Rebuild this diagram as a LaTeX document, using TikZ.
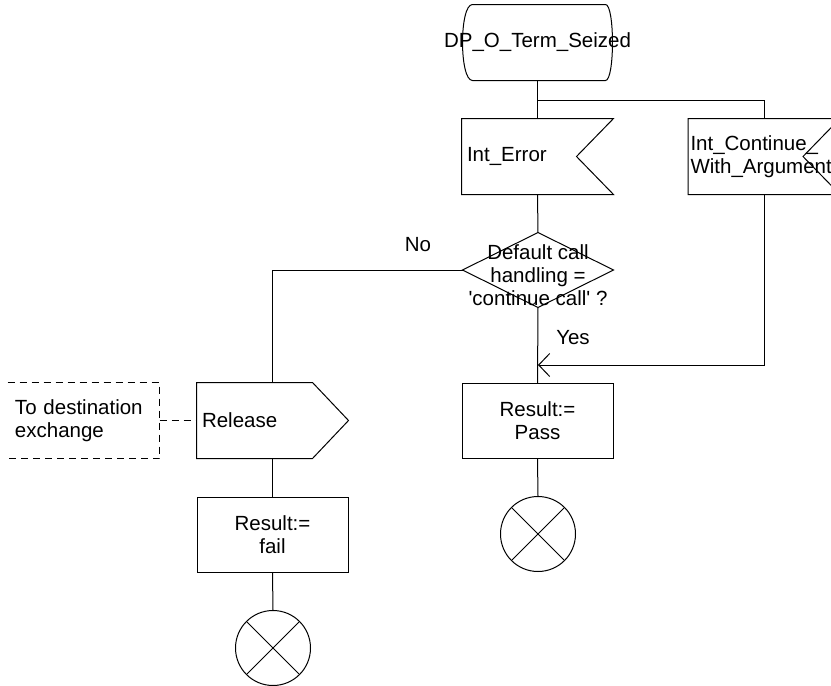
\documentclass[tikz,border=0pt]{standalone}
\usepackage{fontspec}
\setmainfont{Liberation Sans}[Ligatures=TeXOff]
\usetikzlibrary{arrows.meta}
\begin{document}
\begin{tikzpicture}[x=1pt,y=-1pt,line width=1pt,
  every node/.style={font=\fontsize{20.5}{23}\selectfont, inner sep=0pt},
  shapebox/.style={minimum width=151pt, minimum height=75pt, draw=none},
  leftbox/.style={shapebox, text width=141pt, align=left, inner xsep=5pt},
  ctrbox/.style={shapebox, draw, align=center},
  term/.style={circle, draw, minimum size=75pt},
  cmtline/.style={dashed, dash pattern=on 7pt off 5pt},
  flow/.style={-{Straight Barb[length=11pt,width=23pt]}}]
\clip (0,0) rectangle (831,686);
% start state
\node[minimum width=149pt, minimum height=75pt] (start) at (537.5,42.5) {};
\node at (start.center) {DP\_O\_Term\_Seized};
\draw ([xshift=10pt]start.north west) -- ([xshift=-7pt]start.north east)
  .. controls ([xshift=2.3pt]start.north east) and ([xshift=2.3pt]start.south east) .. ([xshift=-7pt]start.south east)
  -- ([xshift=10pt]start.south west)
  .. controls ([xshift=-3.3pt]start.south west) and ([xshift=-3.3pt]start.north west) .. ([xshift=10pt]start.north west);
% input signals
\node[leftbox] (err) at (537.5,156.5) {Int\_Error};
\draw (err.north west) -- (err.north east) -- ([xshift=-37pt]err.east) -- (err.south east) -- (err.south west) -- cycle;
\node[leftbox, text width=147pt, inner xsep=2pt] (cont) at (764,156.5) {Int\_Continue\_\\With\_Argument};
\draw (cont.north west) -- (cont.north east) -- ([xshift=-37pt]cont.east) -- (cont.south east) -- (cont.south west) -- cycle;
% decision
\node[minimum width=150pt, minimum height=74pt] (dec) at (538,270) {};
\node[align=center] at ([yshift=-5pt]dec.center) {Default call\\handling =\\'continue call' ?};
\draw (dec.north) -- (dec.east) -- (dec.south) -- (dec.west) -- cycle;
% output signal
\node[leftbox] (rel) at (272.5,420.5) {Release};
\draw (rel.north west) -- ([xshift=-36pt]rel.north east) -- (rel.east) -- ([xshift=-36pt]rel.south east) -- (rel.south west) -- cycle;
% comment
\node[shapebox, text width=137pt, align=left, inner xsep=7pt] (cmt) at (83.5,420.5) {To destination\\exchange};
\draw[cmtline] (cmt.north west) -- (cmt.north east) -- (cmt.south east) -- (cmt.south west);
\draw[cmtline] (cmt.east) -- (rel.west);
% tasks
\node[ctrbox] (pass) at (537.5,421) {Result:=\\Pass};
\node[ctrbox] (fail) at (272.5,534.5) {Result:=\\fail};
% stops
\node[term] (stoppass) at (538,534) {};
\draw (stoppass.45) -- (stoppass.225) (stoppass.135) -- (stoppass.315);
\node[term] (stopfail) at (273,648) {};
\draw (stopfail.45) -- (stopfail.225) (stopfail.135) -- (stopfail.315);
% connectors
\coordinate (br) at (538,100);
\coordinate (join) at (538,365);
\draw (start.south) -- (err.north);
\draw (br) -| (cont.north);
\draw (err.south) -- (dec.north);
\draw (dec.south) -- (pass.north);
\draw[flow] (cont.south) |- (join);
\draw (dec.west) -| (rel.north);
\draw (rel.south) -- (fail.north);
\draw (fail.south) -- (stopfail.north);
\draw (pass.south) -- (stoppass.north);
% labels
\node (no) at (418,245) {No};
\node (yes) at (573,338) {Yes};
\end{tikzpicture}
\end{document}
